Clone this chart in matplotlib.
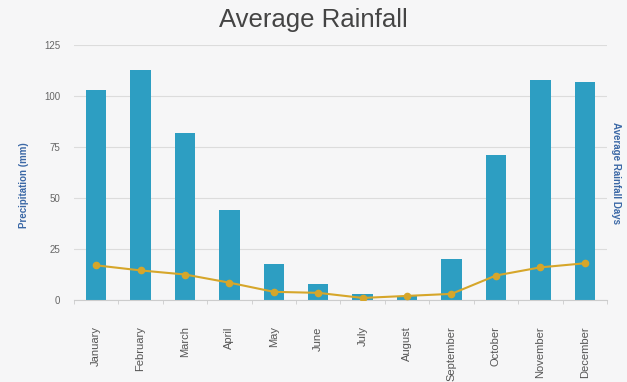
import matplotlib

matplotlib.use("Agg")

import matplotlib.pyplot as plt
import numpy as np

months = ["January", "February", "March", "April", "May", "June",
          "July", "August", "September", "October", "November", "December"]
precip_mm = [103, 113, 82, 44, 17.5, 8, 3, 2, 20, 71, 108, 107]
rain_days = [17, 14.5, 12.5, 8.5, 4, 3.5, 1, 2, 3, 12, 16, 18]
y_ticks = [0, 25, 50, 75, 100, 125]

bar_color = "#2d9ec2"
line_color = "#d6a62a"
label_color = "#3b68a6"

plt.rcParams["font.family"] = ["Liberation Sans", "DejaVu Sans"]

fig = plt.figure(figsize=(6.27, 3.82), dpi=100)
fig.patch.set_facecolor("#f6f6f7")
ax = fig.add_axes([0.118, 0.2147, 0.85, 0.667])
ax.set_facecolor("none")

x = np.arange(len(months))
ax.bar(x, precip_mm, width=0.46, color=bar_color, zorder=2)

ax.set_xlim(-0.5, len(months) - 0.5)
ax.set_ylim(0, 125)
ax.set_yticks(y_ticks)
ax.set_yticklabels([str(t) for t in y_ticks], fontsize=7, color="#666666")
ax.grid(axis="y", color="#dcdcdc", linewidth=0.8, zorder=0)
ax.tick_params(axis="y", length=0, pad=10)

ax.set_xticks(x)
ax.set_xticklabels(months, rotation=90, fontsize=8, color="#555555", va="top")
ax.tick_params(axis="x", length=0, pad=19)
ax.set_xticks(np.arange(-0.5, len(months)), minor=True)
ax.tick_params(axis="x", which="minor", length=3, color="#cccccc")

for side in ["top", "right", "left"]:
    ax.spines[side].set_visible(False)
ax.spines["bottom"].set_color("#cccccc")

ax.set_ylabel("Precipitation (mm)", fontsize=7, fontweight="bold",
              color=label_color, labelpad=14)
ax.yaxis.set_label_coords(-0.085, 0.45)

ax2 = ax.twinx()
ax2.set_ylim(0, 125)
ax2.plot(x, rain_days, color=line_color, linewidth=1.5, marker="o",
         markersize=4.5, zorder=3)
ax2.set_yticks([])
for side in ["top", "right", "left", "bottom"]:
    ax2.spines[side].set_visible(False)
ax2.set_ylabel("Average Rainfall Days", fontsize=7, fontweight="bold",
               color=label_color, rotation=270, labelpad=10)

fig.suptitle("Average Rainfall", fontsize=18.5, color="#444444", y=0.978)

fig.savefig("out.png", dpi=100, facecolor=fig.get_facecolor())
